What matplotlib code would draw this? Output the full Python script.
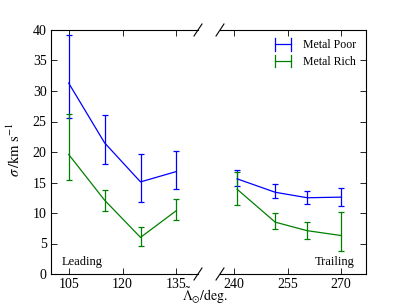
import numpy as np
import matplotlib
matplotlib.use('Agg')
import matplotlib.pyplot as plt
from matplotlib.legend_handler import HandlerBase
from matplotlib.lines import Line2D

plt.rcParams['font.family'] = ['Liberation Serif', 'DejaVu Serif']
plt.rcParams['mathtext.fontset'] = 'stix'
plt.rcParams['font.size'] = 9

# leading arm
lead_x = [105, 115, 125, 135]
poor_lead = [31.3, 21.5, 15.1, 16.8]
poor_lead_lo = [5.7, 3.5, 3.3, 2.9]
poor_lead_hi = [7.8, 4.5, 4.5, 3.4]
rich_lead = [19.6, 12.1, 6.0, 10.4]
rich_lead_lo = [4.2, 1.7, 1.4, 1.55]
rich_lead_hi = [6.6, 1.7, 1.75, 1.95]

# trailing arm
trail_x = [240.8, 251.5, 260.5, 270.1]
poor_trail = [15.6, 13.4, 12.5, 12.6]
poor_trail_lo = [1.2, 0.9, 1.1, 1.5]
poor_trail_hi = [1.5, 1.3, 1.15, 1.45]
rich_trail = [13.9, 8.5, 7.1, 6.3]
rich_trail_lo = [2.6, 1.2, 1.4, 2.5]
rich_trail_hi = [2.8, 1.45, 1.5, 3.9]


class HandlerH(HandlerBase):
    # old style errorbar legend: horizontal line with caps on both ends
    def create_artists(self, legend, orig_handle, xdescent, ydescent,
                       width, height, fontsize, trans):
        c = orig_handle.get_color()
        y = height / 2 - ydescent
        h = 4.5
        x0, x1 = -xdescent + 1.5, width - xdescent - 1
        arts = [Line2D([x0, x1], [y, y], color=c, lw=0.9),
                Line2D([x0, x0], [y - h, y + h], color=c, lw=0.9),
                Line2D([x1, x1], [y - h, y + h], color=c, lw=0.9)]
        for a in arts:
            a.set_transform(trans)
        return arts


fig = plt.figure(figsize=(4.07, 3.05), dpi=100)
ax1 = fig.add_axes([50.7/407, 31/305, 147.3/407, 244/305])
ax2 = fig.add_axes([220/407, 31/305, 146/407, 244/305])

kw = dict(capsize=2.5, lw=0.9, elinewidth=0.9, capthick=0.9)
ax1.errorbar(lead_x, poor_lead, yerr=[poor_lead_lo, poor_lead_hi], color='b', **kw)
ax1.errorbar(lead_x, rich_lead, yerr=[rich_lead_lo, rich_lead_hi], color='g', **kw)
ax2.errorbar(trail_x, poor_trail, yerr=[poor_trail_lo, poor_trail_hi], color='b', **kw)
ax2.errorbar(trail_x, rich_trail, yerr=[rich_trail_lo, rich_trail_hi], color='g', **kw)

ax1.set_xlim(100, 141)
ax2.set_xlim(236, 277)
for ax in (ax1, ax2):
    ax.set_ylim(0, 40)
    ax.set_yticks(np.arange(0, 41, 5))
    ax.tick_params(direction='in', length=4, width=0.6, top=True, pad=3,
                   labelsize=10)
    for s in ax.spines.values():
        s.set_linewidth(0.8)
ax1.set_xticks([105, 120, 135])
ax2.set_xticks([240, 255, 270])

ax1.spines['right'].set_visible(False)
ax2.spines['left'].set_visible(False)
ax1.tick_params(right=False)
ax2.tick_params(left=False, labelleft=False, right=True)

# break marks
dx, dy = 4/147.3, 6/244
for ax, x0 in ((ax1, 1.0), (ax2, 0.0)):
    for y0 in (0.0, 1.0):
        ax.plot([x0 - dx, x0 + dx], [y0 - dy, y0 + dy], color='k', lw=0.8,
                transform=ax.transAxes, clip_on=False)

ax1.set_ylabel(r'$\sigma\,/\mathrm{km\ s^{-1}}$', fontsize=10.5)
ax1.yaxis.set_label_coords(-0.19, 0.51)
fig.text(0.505, 0.012, r'$\tilde{\Lambda}_{\odot}/\mathrm{deg.}$', ha='center',
         va='baseline', fontsize=10)

ax1.text(0.072, 0.035, 'Leading', transform=ax1.transAxes, fontsize=9)
ax2.text(0.925, 0.035, 'Trailing', transform=ax2.transAxes, fontsize=9, ha='right')

h1 = Line2D([], [], color='b')
h2 = Line2D([], [], color='g')
ax2.legend([h1, h2], ['Metal Poor', 'Metal Rich'], handler_map={Line2D: HandlerH()},
           loc='upper right', frameon=False, fontsize=8.5, handlelength=1.7,
           handletextpad=0.9, borderaxespad=0.4, labelspacing=0.4)

fig.savefig('out.png', dpi=100)
